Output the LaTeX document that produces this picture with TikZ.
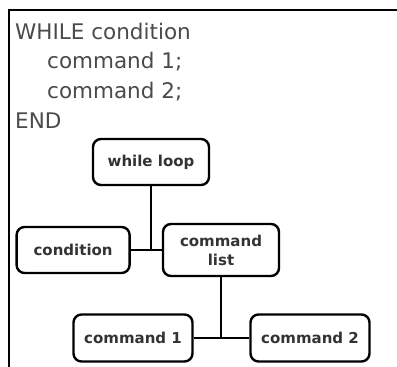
\documentclass[tikz,border=0pt]{standalone}
\usepackage{fontspec}
\setmainfont{DejaVu Sans}
\usepackage{tikz}
\usetikzlibrary{positioning}
\definecolor{codegray}{HTML}{4A4A4A}
\definecolor{boxtext}{HTML}{333333}
\tikzset{
    block/.style={draw, line width=2.4pt, rounded corners=8pt, fill=white, text=boxtext,
      font=\fontsize{15}{19}\selectfont\bfseries, align=center, inner sep=0pt,
      minimum width=116pt, minimum height=46pt},
    code/.style={anchor=base west, inner sep=0pt, text=codegray, font=\fontsize{21.5}{26}\selectfont},
    link/.style={line width=2.4pt},
    node distance=31pt
}
\begin{document}
\begin{tikzpicture}[x=1pt,y=-1pt]
			\useasboundingbox (0,0) rectangle (397,367);
			% frame
			\draw[line width=2.4pt] (397,10) -- (9,10) -- (9,367);

			% pseudo code
			\node[code] (l1) at (15,39) {WHILE condition};
			\node[code] (l2) at (47,68) {command 1;};
			\node[code] (l3) at (47,98) {command 2;};
			\node[code] (l4) at (15,128) {END};

			% tree
			\node[block] (wl) at (151,162) {while loop};
			\node[block, minimum height=52pt] (cl) at (221,250) {command\\list};
			\node[block, minimum width=113pt, left = of cl] (cond) {condition};
			\node[block, minimum width=119pt, minimum height=47pt] (c1) at (133,338) {command 1};
			\node[block, minimum width=119pt, minimum height=47pt] (c2) at (310,338) {command 2};

			\draw[link] (cond) -- (cl);
			\draw[link] (wl) -- (wl |- cond.east);
			\draw[link] (c1) -- (c2);
			\draw[link] (cl) -- (cl |- c1.east);
		\end{tikzpicture}
\end{document}
